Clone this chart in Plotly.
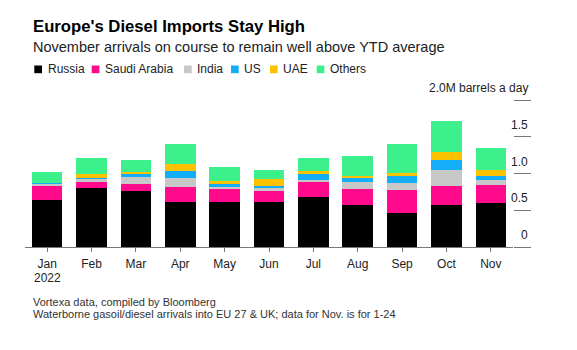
import plotly.graph_objects as go

months = ["Jan", "Feb", "Mar", "Apr", "May", "Jun", "Jul", "Aug", "Sep", "Oct", "Nov"]
year_label = "2022"
russia = [0.645, 0.805, 0.764, 0.619, 0.606, 0.606, 0.682, 0.573, 0.464, 0.569, 0.600]
saudi_arabia = [0.190, 0.082, 0.091, 0.200, 0.186, 0.150, 0.214, 0.210, 0.310, 0.263, 0.246]
india = [0.025, 0.040, 0.100, 0.118, 0.036, 0.041, 0.010, 0.100, 0.100, 0.214, 0.060]
us = [0.010, 0.015, 0.046, 0.095, 0.027, 0.036, 0.082, 0.068, 0.087, 0.136, 0.063]
uae = [0.000, 0.050, 0.022, 0.095, 0.041, 0.087, 0.041, 0.018, 0.041, 0.114, 0.078]
others = [0.155, 0.222, 0.164, 0.268, 0.191, 0.131, 0.186, 0.268, 0.400, 0.418, 0.304]

series_names = ["Russia", "Saudi Arabia", "India", "US", "UAE", "Others"]
series_values = [russia, saudi_arabia, india, us, uae, others]
series_colors = ["#000000", "#ff0a8c", "#c8c8c8", "#14adf7", "#fcc200", "#3cf08c"]

y_tick_vals = [0, 0.5, 1.0, 1.5, 2.0]
y_tick_text = ["0", "0.5", "1.0", "1.5", "2.0M barrels a day"]

FONT = "Liberation Sans, Arial, sans-serif"
W, H = 577, 350
ML, MR, MT, MB = 25, 64, 100, 103
PW = W - ML - MR
PH = H - MT - MB


def px(x):
    return (x - ML) / PW


def py(y):
    return (H - MB - y) / PH


fig = go.Figure()
for name, vals, col in zip(series_names, series_values, series_colors):
    fig.add_trace(go.Bar(x=months, y=vals, name=name, marker=dict(color=col, line=dict(width=0)),
                         showlegend=False))

annotations = []
shapes = []

# title & subtitle
annotations.append(dict(text="<b>Europe's Diesel Imports Stay High</b>", xref="paper", yref="paper",
                        x=px(31), y=py(26), xanchor="left", yanchor="middle", showarrow=False,
                        font=dict(family=FONT, size=16.7, color="#000")))
annotations.append(dict(text="November arrivals on course to remain well above YTD average", xref="paper",
                        yref="paper", x=px(31), y=py(47), xanchor="left", yanchor="middle", showarrow=False,
                        font=dict(family=FONT, size=14.5, color="#222")))

# legend
legend_sq_x = [34.3, 91.7, 184, 231, 270, 316.7]
for name, col, sx in zip(series_names, series_colors, legend_sq_x):
    shapes.append(dict(type="rect", xref="paper", yref="paper", x0=px(sx), x1=px(sx + 7.7),
                       y0=py(73.2), y1=py(65.5), fillcolor=col, line=dict(width=0)))
    annotations.append(dict(text=name, xref="paper", yref="paper", x=px(sx + 11.3), y=py(69),
                            xanchor="left", yanchor="middle", showarrow=False,
                            font=dict(family=FONT, size=12, color="#222")))

# y tick labels (above tick lines, right-aligned)
for v, t in zip(y_tick_vals, y_tick_text):
    annotations.append(dict(text=t, xref="paper", yref="y", x=px(530), y=v, xanchor="right",
                            yanchor="bottom", yshift=3, showarrow=False,
                            font=dict(family=FONT, size=12, color="#222")))

# year under first month
annotations.append(dict(text=year_label, xref="x", yref="paper", x=months[0], y=py(278),
                        xanchor="center", yanchor="middle", showarrow=False,
                        font=dict(family=FONT, size=12, color="#222")))

# footer
annotations.append(dict(text="Vortexa data, compiled by Bloomberg", xref="paper", yref="paper",
                        x=px(31), y=py(301.5), xanchor="left", yanchor="middle", showarrow=False,
                        font=dict(family=FONT, size=11, color="#333")))
annotations.append(dict(text="Waterborne gasoil/diesel arrivals into EU 27 & UK; data for Nov. is for 1-24",
                        xref="paper", yref="paper", x=px(31), y=py(313.5), xanchor="left", yanchor="middle",
                        showarrow=False, font=dict(family=FONT, size=11, color="#333")))

fig.update_layout(
    barmode="stack",
    bargap=0.31,
    width=W, height=H,
    margin=dict(l=ML, r=MR, t=MT, b=MB, pad=0),
    paper_bgcolor="white", plot_bgcolor="white",
    font=dict(family=FONT, size=12, color="#222"),
    annotations=annotations,
    shapes=shapes,
    xaxis=dict(showline=True, linecolor="#777", linewidth=1, ticks="outside", ticklen=4,
               tickcolor="#777", tickwidth=1, showgrid=False, zeroline=False,
               ticklabelstandoff=2,
               tickfont=dict(family=FONT, size=12, color="#222"), fixedrange=True),
    yaxis=dict(side="right", range=[0, 2.0], tickvals=y_tick_vals, showticklabels=False,
               ticks="outside", ticklen=17, tickcolor="#777", tickwidth=1, showgrid=False,
               zeroline=False, showline=False, fixedrange=True),
)

fig.write_html("out.html")
